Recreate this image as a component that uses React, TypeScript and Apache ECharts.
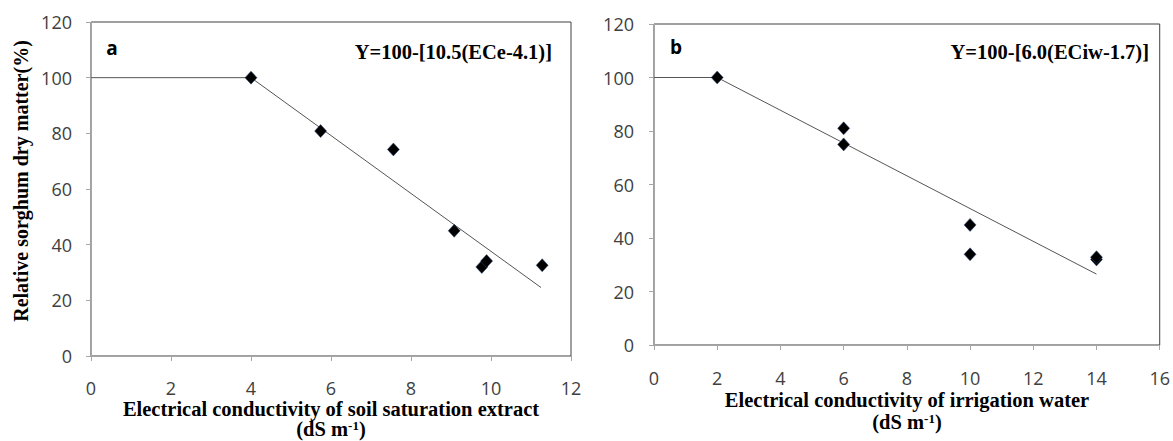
import React, { useEffect, useRef } from "react";
import * as echarts from "echarts";

// Panel a: ECe (soil saturation extract) vs relative sorghum dry matter
const ecSoil = [4.0, 5.74, 7.56, 9.08, 9.77, 9.89, 11.28];
const dmSoil = [100, 80.8, 74.2, 45.0, 32.0, 34.1, 32.6];
const fitSoilX = [0, 4.0, 11.25];
const fitSoilY = [100, 100, 24.6];

// Panel b: ECiw (irrigation water) vs relative sorghum dry matter
const ecWater = [2, 6, 6, 10, 10, 14, 14];
const dmWater = [100, 81.0, 75.0, 44.9, 33.9, 32.0, 32.8];
const fitWaterX = [0, 2, 14];
const fitWaterY = [100, 100, 26.5];

const yTicks = [0, 20, 40, 60, 80, 100, 120];
const xTicksA = [0, 2, 4, 6, 8, 10, 12];
const xTicksB = [0, 2, 4, 6, 8, 10, 12, 14, 16];

const equationA = "Y=100-[10.5(ECe-4.1)]";
const equationB = "Y=100-[6.0(ECiw-1.7)]";
const xTitleA = "Electrical conductivity of soil saturation extract";
const xTitleB = "Electrical conductivity of irrigation water";
const yTitle = "Relative sorghum dry matter(%)";

const pairs = (xs: number[], ys: number[]) => xs.map((x, i) => [x, ys[i]]);

const tickFont = { fontFamily: "Open Sans", fontSize: 18, color: "#404040" };
const axisGray = "#a6a6a6";
const serif = "Liberation Serif";
const titleSize = 20.5;

function makeXAxis(gridIndex: number, ticks: number[], margin: number) {
  return {
    type: "value" as const,
    gridIndex,
    min: ticks[0],
    max: ticks[ticks.length - 1],
    interval: ticks[1] - ticks[0],
    axisLine: { show: true, onZero: false, lineStyle: { color: axisGray, width: 1 } },
    axisTick: { show: true, inside: false, length: 5, lineStyle: { color: axisGray } },
    axisLabel: { ...tickFont, margin },
    splitLine: { show: false },
  };
}

function makeYAxis(gridIndex: number, margin: number) {
  return {
    type: "value" as const,
    gridIndex,
    min: yTicks[0],
    max: yTicks[yTicks.length - 1],
    interval: yTicks[1] - yTicks[0],
    axisLine: { show: true, onZero: false, lineStyle: { color: axisGray, width: 1 } },
    axisTick: { show: true, inside: false, length: 5, lineStyle: { color: axisGray } },
    axisLabel: { ...tickFont, margin },
    splitLine: { show: false },
  };
}

const richUnit = {
  n: { fontFamily: serif, fontWeight: "bold" as const, fontSize: titleSize, lineHeight: 20, fill: "#000" },
  s: { fontFamily: serif, fontWeight: "bold" as const, fontSize: 13, lineHeight: 13, verticalAlign: "top" as const, fill: "#000" },
};

function xTitle(cx: number, y1: number, y2: number, text: string) {
  return [
    {
      type: "text",
      x: cx,
      y: y1,
      style: {
        text,
        fontFamily: serif,
        fontWeight: "bold",
        fontSize: titleSize,
        fill: "#000",
        align: "center",
        verticalAlign: "middle",
      },
    },
    {
      type: "text",
      x: cx,
      y: y2,
      style: {
        text: "{n|(dS m}{s|-1}{n|)}",
        rich: richUnit,
        align: "center",
        verticalAlign: "middle",
      },
    },
  ];
}

export default function App() {
  const ref = useRef<HTMLDivElement>(null);
  useEffect(() => {
    const chart = echarts.init(ref.current!, null, { renderer: "svg" });
    const option = {
      animation: false,
      backgroundColor: "#fff",
      grid: [
        { left: 91, top: 22, width: 480, height: 334, show: true, borderColor: "#404040", borderWidth: 1 },
        { left: 654, top: 24, width: 506, height: 321, show: true, borderColor: "#404040", borderWidth: 1 },
      ],
      xAxis: [makeXAxis(0, xTicksA, 23), makeXAxis(1, xTicksB, 24)],
      yAxis: [makeYAxis(0, 19), makeYAxis(1, 20)],
      series: [
        {
          type: "line",
          xAxisIndex: 0,
          yAxisIndex: 0,
          data: pairs(fitSoilX, fitSoilY),
          showSymbol: false,
          symbol: "none",
          lineStyle: { color: "#555", width: 1 },
          silent: true,
          z: 1,
        },
        {
          type: "scatter",
          xAxisIndex: 0,
          yAxisIndex: 0,
          data: pairs(ecSoil, dmSoil),
          symbol: "diamond",
          symbolSize: [12, 13],
          itemStyle: { color: "#000", borderColor: "#2b4a7a", borderWidth: 0.5, opacity: 1 },
          z: 3,
        },
        {
          type: "line",
          xAxisIndex: 1,
          yAxisIndex: 1,
          data: pairs(fitWaterX, fitWaterY),
          showSymbol: false,
          symbol: "none",
          lineStyle: { color: "#555", width: 1 },
          silent: true,
          z: 1,
        },
        {
          type: "scatter",
          xAxisIndex: 1,
          yAxisIndex: 1,
          data: pairs(ecWater, dmWater),
          symbol: "diamond",
          symbolSize: [12, 13],
          itemStyle: { color: "#000", borderColor: "#2b4a7a", borderWidth: 0.5, opacity: 1 },
          z: 3,
        },
      ],
      graphic: [
        {
          type: "text",
          x: 21,
          y: 181,
          rotation: Math.PI / 2,
          style: {
            text: yTitle,
            fontFamily: serif,
            fontWeight: "bold",
            fontSize: 20,
            fill: "#000",
            align: "center",
            verticalAlign: "middle",
          },
        },
        ...xTitle(331, 409, 429, xTitleA),
        ...xTitle(907, 400, 422, xTitleB),
        {
          type: "text",
          x: 112,
          y: 48,
          style: { text: "a", fontFamily: "Open Sans", fontWeight: "bold", fontSize: 19, fill: "#000", align: "center", verticalAlign: "middle" },
        },
        {
          type: "text",
          x: 676,
          y: 47,
          style: { text: "b", fontFamily: "Open Sans", fontWeight: "bold", fontSize: 19, fill: "#000", align: "center", verticalAlign: "middle" },
        },
        {
          type: "text",
          x: 552,
          y: 52,
          style: { text: equationA, fontFamily: serif, fontWeight: "bold", fontSize: titleSize, fill: "#000", align: "right", verticalAlign: "middle" },
        },
        {
          type: "text",
          x: 1149,
          y: 52,
          style: { text: equationB, fontFamily: serif, fontWeight: "bold", fontSize: titleSize, fill: "#000", align: "right", verticalAlign: "middle" },
        },
      ],
    };
    chart.setOption(option as any);
    return () => chart.dispose();
  }, []);
  return (
    <div
      ref={ref}
      style={{ position: "absolute", left: 0, top: 0, width: 1173, height: 441 }}
    />
  );
}
